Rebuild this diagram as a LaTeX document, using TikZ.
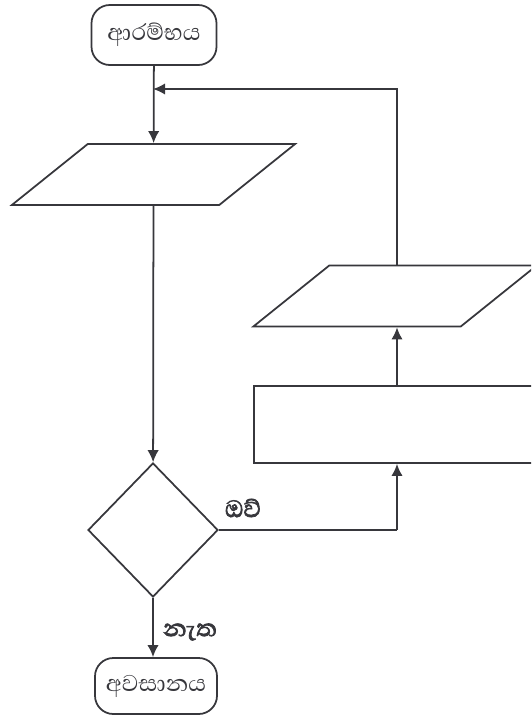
\documentclass[tikz,border=0pt]{standalone}
\usepackage{fontspec}
\newfontfamily\sinhala[Script=Sinhala]{Abhaya Libre}
\newfontfamily\sinhalabf[Script=Sinhala,FakeBold=2.5]{Abhaya Libre}
\usetikzlibrary{shapes.geometric,arrows.meta}
\definecolor{ink}{RGB}{55,55,60}
\tikzset{
  line/.style={draw=ink,line width=1.5pt},
  flow/.style={line,-{Latex[length=3.6mm,width=3.4mm]}},
  term/.style={line,rectangle,rounded corners=5.5mm,minimum width=37.5mm,minimum height=18mm,font=\sinhala\fontsize{25}{28}\selectfont,text=ink},
  io/.style={line,trapezium,trapezium left angle=60,trapezium right angle=120,trapezium stretches=true,minimum width=85mm,minimum height=18.3mm},
  proc/.style={line,rectangle,minimum width=85.8mm,minimum height=23.1mm},
  decide/.style={line,diamond,minimum width=39mm,minimum height=40.2mm,inner sep=0pt},
  lbl/.style={font=\sinhalabf\fontsize{26}{28}\selectfont,text=ink}
}
\begin{document}
\begin{tikzpicture}[x=0.3mm,y=-0.3mm]
\useasboundingbox (0,0) rectangle (531,717);
\clip (0,0) rectangle (531,717);
\node [term](Start) at (154,35){ආරම්භය};
\node [io](In) at (153.5,174.5){};
\node [decide](Dec) at (153,530){};
\node [proc](Proc) at (397,424.5){};
\node [io](Out) at (395,296){};
\node [term,minimum width=36.6mm,minimum height=16.8mm](End) at (156,686){අවසානය};
\coordinate (Join) at (153,89);
\coordinate (Turn) at (397,530);
\draw [flow](Start) -- (In);
\draw [flow](In) -- (Dec);
\draw [line](Dec.east) -- (Turn);
\draw [flow](Turn) -- (Proc.south);
\draw [flow](Proc.north) -- (Proc.north |- Out.south);
\draw [flow](Out.north -| Proc.north) |- (Join);
\draw [flow](Dec.south) -- (End.north -| Dec.south);
\node [lbl](Yes) at (243,508){ඔව්};
\node [lbl](No) at (190,632){නැත};
\end{tikzpicture}
\end{document}
